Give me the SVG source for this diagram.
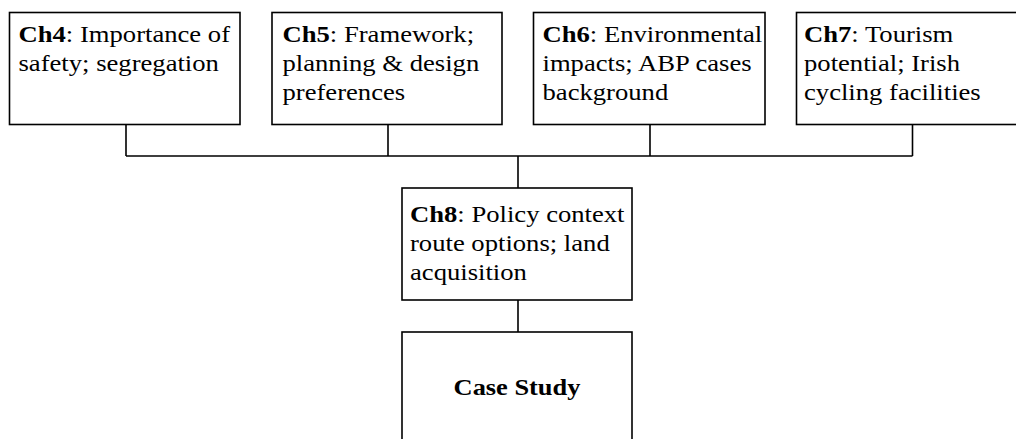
<svg xmlns="http://www.w3.org/2000/svg" width="1016" height="439" viewBox="0 0 1016 439">
<style>
.box{fill:#fff;stroke:#000;stroke-width:1.6}
.ln{fill:none;stroke:#000;stroke-width:1.6}
text{font-family:"Liberation Serif","Times New Roman",serif;font-size:24px;fill:#000}
.b{font-weight:bold}
</style>
<rect width="1016" height="439" fill="#fff"/>
<g id="connectors">
<path class="ln" d="M126 124.5V156M388 124.5V156M650 124.5V156M912.5 124.5V156M126 156H912.5M518 156V188M518 300V332"/>
</g>
<g id="ch4">
<rect class="box" x="9.5" y="12.5" width="230.5" height="112"/>
<text transform="translate(18.5 42) scale(1.11 1)"><tspan x="0"><tspan class="b">Ch4</tspan>: Importance of</tspan><tspan x="0" dy="29">safety; segregation</tspan></text>
</g>
<g id="ch5">
<rect class="box" x="272" y="12.5" width="230" height="112"/>
<text transform="translate(282.5 42) scale(1.11 1)"><tspan x="0"><tspan class="b">Ch5</tspan>: Framework;</tspan><tspan x="0" dy="29">planning &amp; design</tspan><tspan x="0" dy="29">preferences</tspan></text>
</g>
<g id="ch6">
<rect class="box" x="533.5" y="12.5" width="231.5" height="112"/>
<text transform="translate(542.5 42) scale(1.11 1)"><tspan x="0"><tspan class="b">Ch6</tspan>: Environmental</tspan><tspan x="0" dy="29">impacts; ABP cases</tspan><tspan x="0" dy="29">background</tspan></text>
</g>
<g id="ch7">
<rect class="box" x="796.5" y="12.5" width="240" height="112"/>
<text transform="translate(804 42) scale(1.11 1)"><tspan x="0"><tspan class="b">Ch7</tspan>: Tourism</tspan><tspan x="0" dy="29">potential; Irish</tspan><tspan x="0" dy="29">cycling facilities</tspan></text>
</g>
<g id="ch8">
<rect class="box" x="402" y="188" width="230" height="112"/>
<text transform="translate(410 222) scale(1.11 1)"><tspan x="0"><tspan class="b">Ch8</tspan>: Policy context</tspan><tspan x="0" dy="29">route options; land</tspan><tspan x="0" dy="29">acquisition</tspan></text>
</g>
<g id="case-study">
<rect class="box" x="402" y="332" width="230" height="130"/>
<text class="b" text-anchor="middle" transform="translate(517 395) scale(1.1 1)">Case Study</text>
</g>
</svg>
